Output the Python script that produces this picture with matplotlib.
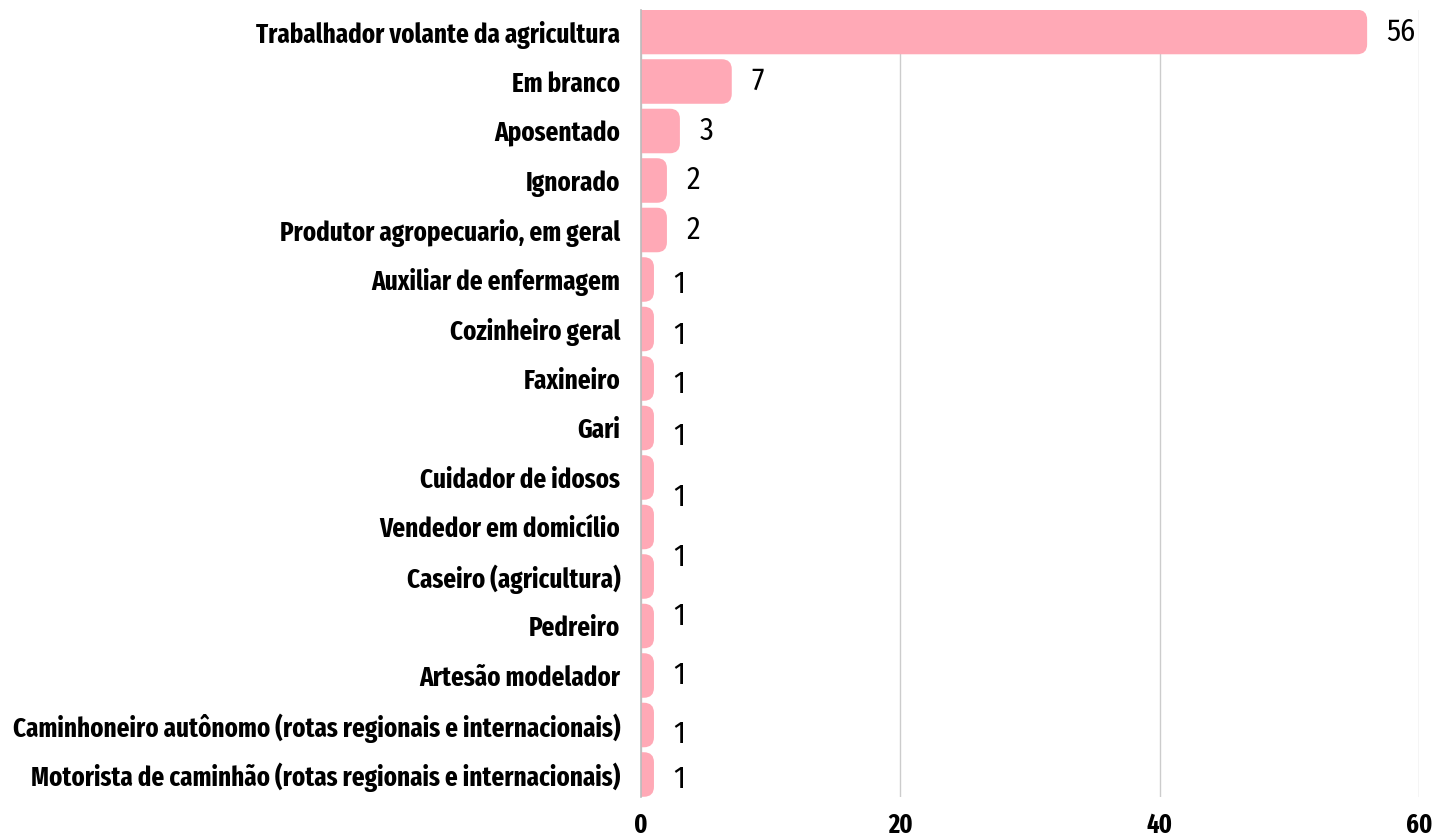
import numpy as np
import matplotlib
matplotlib.use("Agg")
import matplotlib.pyplot as plt
from matplotlib.patches import FancyBboxPatch

categories = [
    "Trabalhador volante da agricultura",
    "Em branco",
    "Aposentado",
    "Ignorado",
    "Produtor agropecuario, em geral",
    "Auxiliar de enfermagem",
    "Cozinheiro geral",
    "Faxineiro",
    "Gari",
    "Cuidador de idosos",
    "Vendedor em domicílio",
    "Caseiro (agricultura)",
    "Pedreiro",
    "Artesão modelador",
    "Caminhoneiro autônomo (rotas regionais e internacionais)",
    "Motorista de caminhão (rotas regionais e internacionais)",
]
values = [56, 7, 3, 2, 2, 1, 1, 1, 1, 1, 1, 1, 1, 1, 1, 1]
xticks = [0, 20, 40, 60]

# label nudges (pixels, + = down) as in the original layout; None = label hidden
label_dy = [0, 0, 0, 0, 0, 5, 6, 6, 8, 20, None, -19, -10, 0, 9, 5]

bar_color = "#ffa9b6"
cat_font = dict(family=["Fira Sans Extra Condensed", "DejaVu Sans"], weight="bold")
val_font = dict(family=["Fira Sans Condensed", "DejaVu Sans"], weight="normal")

fig = plt.figure(figsize=(14.42, 8.38), dpi=100)
ax = fig.add_axes([641 / 1442, 41 / 838, (1419 - 641) / 1442, (797 - 10) / 838])

n = len(categories)
ax.set_xlim(0, 60)
ax.set_ylim(n - 1 + 22.5 / 49.5, -22 / 49.5)

# pixel scale for rounded corners
bbox = ax.get_window_extent()
px_x = 60 / bbox.width
px_y = (n - 1 + 22.5 / 49.5 + 22 / 49.5) / bbox.height
r_px = 10
h = 0.9

for i, v in enumerate(values):
    x0 = -2
    box = FancyBboxPatch((x0, i - h / 2), v - x0, h,
                         boxstyle="round,pad=0,rounding_size=%f" % (r_px * px_x),
                         mutation_aspect=px_y / px_x,
                         facecolor=bar_color, edgecolor="none", zorder=2)
    ax.add_patch(box)
    if label_dy[i] is not None:
        ax.annotate(str(v), (v, i), xytext=(14, -label_dy[i] * 0.72),
                    textcoords="offset points", ha="left", va="center",
                    fontsize=22, color="#000000", **val_font)

ax.set_yticks(range(n))
ax.set_yticklabels(categories, fontsize=19.5, **cat_font)
ax.set_xticks(xticks)
ax.set_xticklabels([str(t) for t in xticks], fontsize=19, **cat_font)
ax.tick_params(axis="both", length=0)
ax.tick_params(axis="y", pad=15)
ax.tick_params(axis="x", pad=11)

ax.grid(axis="x", color="#cccccc", linewidth=1, zorder=0)
ax.set_axisbelow(True)
for s in ["top", "right", "bottom"]:
    ax.spines[s].set_visible(False)
ax.spines["left"].set_color("#bbbbbb")
ax.spines["left"].set_linewidth(1.2)

fig.savefig("out.png", dpi=100)
